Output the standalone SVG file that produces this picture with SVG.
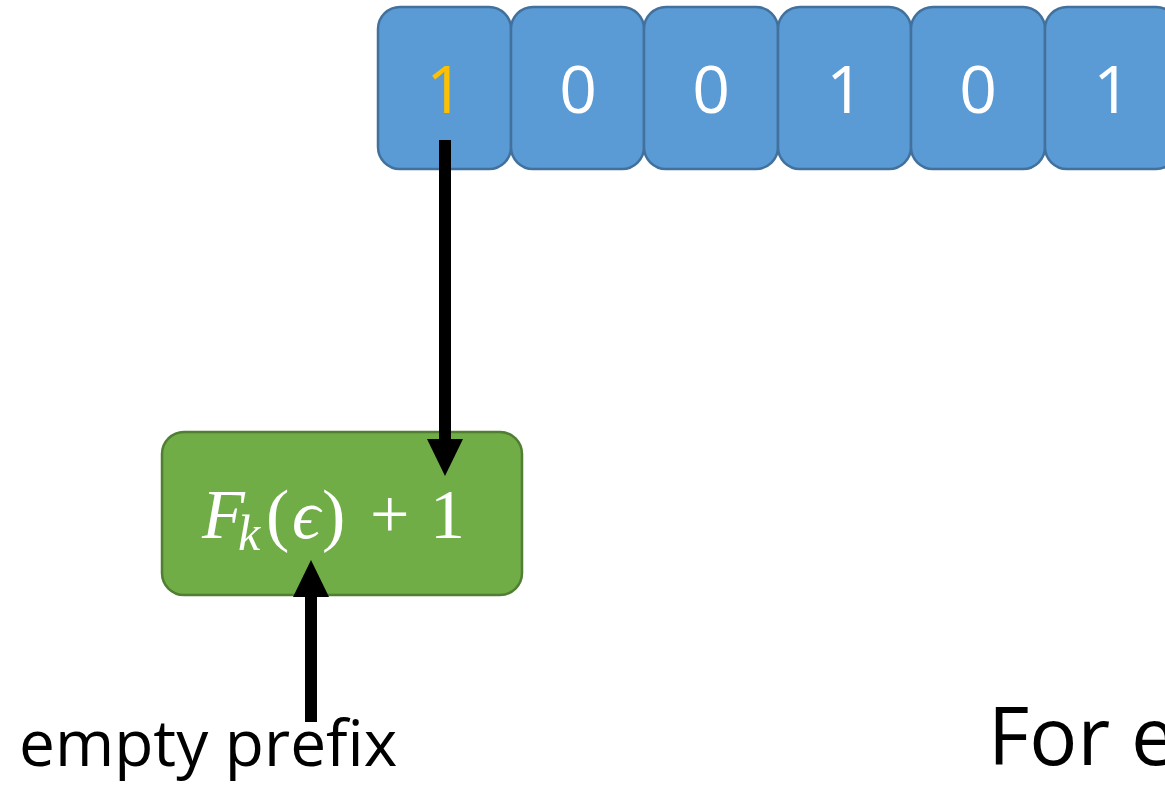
<svg xmlns="http://www.w3.org/2000/svg" width="1165" height="800" viewBox="0 0 1165 800">
  <style>
    .bit { fill: #5B9BD5; stroke: #41719C; stroke-width: 2.5; }
    .bit-label { font-family: "Open Sans", "Liberation Sans", sans-serif; font-size: 66px; fill: #FFFFFF; text-anchor: middle; }
    .calc { fill: #70AD47; stroke: #507E32; stroke-width: 2.5; }
    .math { font-family: "Liberation Serif", "DejaVu Serif", serif; fill: #FFFFFF; }
    .caption { font-family: "Open Sans", "Liberation Sans", sans-serif; fill: #000000; }
    .wire { stroke: #000000; stroke-width: 12; fill: none; }
  </style>
  <defs>
    <marker id="head" markerUnits="userSpaceOnUse" markerWidth="40" markerHeight="38" refX="0" refY="18" orient="auto" overflow="visible">
      <path d="M0,0 L37,18 L0,36 Z" fill="#000000"/>
    </marker>
  </defs>
  <rect width="1165" height="800" fill="#FFFFFF"/>

  <!-- input bit string -->
  <g id="bit0">
    <rect class="bit" x="378" y="7" width="133" height="162" rx="22"/>
    <text class="bit-label" x="445" y="113" style="fill:#FFC000">1</text>
  </g>
  <g id="bit1">
    <rect class="bit" x="511" y="7" width="133" height="162" rx="22"/>
    <text class="bit-label" x="578" y="113">0</text>
  </g>
  <g id="bit2">
    <rect class="bit" x="644" y="7" width="134" height="162" rx="22"/>
    <text class="bit-label" x="711" y="113">0</text>
  </g>
  <g id="bit3">
    <rect class="bit" x="778" y="7" width="133" height="162" rx="22"/>
    <text class="bit-label" x="845" y="113">1</text>
  </g>
  <g id="bit4">
    <rect class="bit" x="911" y="7" width="134" height="162" rx="22"/>
    <text class="bit-label" x="978" y="113">0</text>
  </g>
  <g id="bit5">
    <rect class="bit" x="1045" y="7" width="133" height="162" rx="22"/>
    <text class="bit-label" x="1112" y="113">1</text>
  </g>

  <!-- PRF evaluation on the empty prefix -->
  <g id="prf">
    <rect class="calc" x="162" y="432" width="360" height="163" rx="22"/>
    <text class="math" font-size="70">
      <tspan x="202" y="538" font-style="italic">F</tspan>
      <tspan x="238" y="550" font-size="50" font-style="italic">k</tspan>
      <tspan x="266" y="538">(</tspan>
      <tspan x="292" y="538" font-style="italic">ϵ</tspan>
      <tspan x="322" y="538">)</tspan>
      <tspan x="370" y="538">+</tspan>
      <tspan x="430" y="538">1</tspan>
    </text>
  </g>

  <!-- labels -->
  <g id="empty-prefix">
    <text class="caption" x="19" y="766" font-size="64">empty prefix</text>
  </g>
  <g id="footer">
    <text class="caption" x="988" y="765" font-size="80">For e</text>
  </g>

  <!-- connectors -->
  <g id="connectors">
    <line class="wire" x1="445" y1="140" x2="445" y2="439" marker-end="url(#head)"/>
    <line class="wire" x1="311" y1="722" x2="311" y2="597" marker-end="url(#head)"/>
  </g>
</svg>
